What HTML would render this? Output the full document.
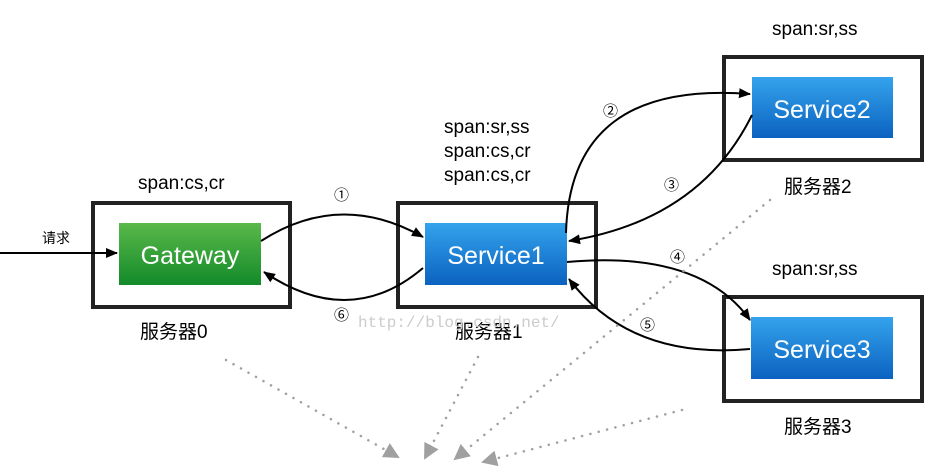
<!DOCTYPE html>
<html><head><meta charset="utf-8"><style>
body{margin:0;width:930px;height:467px;background:#fff;overflow:hidden}
svg text{font-family:"Liberation Sans","Noto Sans CJK SC",sans-serif}
svg text.m{font-family:"Liberation Mono",monospace}
</style></head><body>
<svg width="930" height="467" viewBox="0 0 930 467" xmlns="http://www.w3.org/2000/svg">
<defs>
<linearGradient id="g" x1="0" y1="0" x2="0" y2="1"><stop offset="0" stop-color="#5ab94a"/><stop offset="1" stop-color="#138a2a"/></linearGradient>
<linearGradient id="b" x1="0" y1="0" x2="0" y2="1"><stop offset="0" stop-color="#34a3ec"/><stop offset="1" stop-color="#0b62c0"/></linearGradient>
<marker id="a" markerWidth="12" markerHeight="12" refX="11" refY="6" orient="auto" markerUnits="userSpaceOnUse"><path d="M0,1 L12,6 L0,11 Z" fill="#000"/></marker>
<marker id="ga" markerWidth="16" markerHeight="16" refX="14" refY="8" orient="auto" markerUnits="userSpaceOnUse"><path d="M0,0 L16,8 L0,16 Z" fill="#a0a0a0"/></marker>
</defs>
<g fill="none" stroke="#222" stroke-width="4">
<rect x="93" y="203" width="197" height="104"/>
<rect x="398" y="203" width="198" height="104"/>
<rect x="724" y="57" width="198" height="103"/>
<rect x="724" y="297" width="198" height="104"/>
</g>
<rect x="119" y="223" width="142" height="62" fill="url(#g)"/>
<rect x="425" y="223" width="142" height="62" fill="url(#b)"/>
<rect x="752" y="77" width="141" height="61" fill="url(#b)"/>
<rect x="751" y="317" width="142" height="62" fill="url(#b)"/>
<g fill="#fff" font-size="25" text-anchor="middle">
<text x="190" y="264">Gateway</text>
<text x="496" y="264">Service1</text>
<text x="822" y="118">Service2</text>
<text x="822" y="358">Service3</text>
</g>
<g fill="#000" font-size="19">
<text x="138" y="189">span:cs,cr</text>
<text x="444" y="133">span:sr,ss</text>
<text x="444" y="157">span:cs,cr</text>
<text x="444" y="181">span:cs,cr</text>
<text x="772" y="35">span:sr,ss</text>
<text x="772" y="275">span:sr,ss</text>
<text x="140" y="338">服务器0</text>
<text x="455" y="338">服务器1</text>
<text x="784" y="193">服务器2</text>
<text x="784" y="433">服务器3</text>
<text x="42" y="243" font-size="14">请求</text>
</g>
<g font-size="15" fill="#000">
<text x="334" y="200">①</text><text x="603" y="116">②</text><text x="664" y="190">③</text>
<text x="670" y="262">④</text><text x="640" y="330">⑤</text><text x="334" y="320">⑥</text>
</g>
<text class="m" x="358" y="327" font-size="16" fill="#ccc">http://blog.csdn.net/</text>
<g fill="none" stroke="#000" stroke-width="2">
<line x1="0" y1="253" x2="117" y2="253" marker-end="url(#a)"/>
<path d="M261,241 Q340,190 423,237" marker-end="url(#a)"/>
<path d="M423,268 Q350,330 264,272" marker-end="url(#a)"/>
<path d="M566,233 Q570,80 750,94" marker-end="url(#a)"/>
<path d="M752,115 Q700,220 569,241" marker-end="url(#a)"/>
<path d="M567,262 Q700,250 750,320" marker-end="url(#a)"/>
<path d="M750,349 Q630,360 569,279" marker-end="url(#a)"/>
</g>
<g fill="none" stroke="#a0a0a0" stroke-width="2.5" stroke-dasharray="0.1 8.5" stroke-linecap="round">
<path d="M226,360 L398,457" marker-end="url(#ga)"/>
<path d="M478,357 L425,458" marker-end="url(#ga)"/>
<path d="M770,200 L455,459" marker-end="url(#ga)"/>
<path d="M682,410 L483,462" marker-end="url(#ga)"/>
</g>
</svg>
</body></html>
